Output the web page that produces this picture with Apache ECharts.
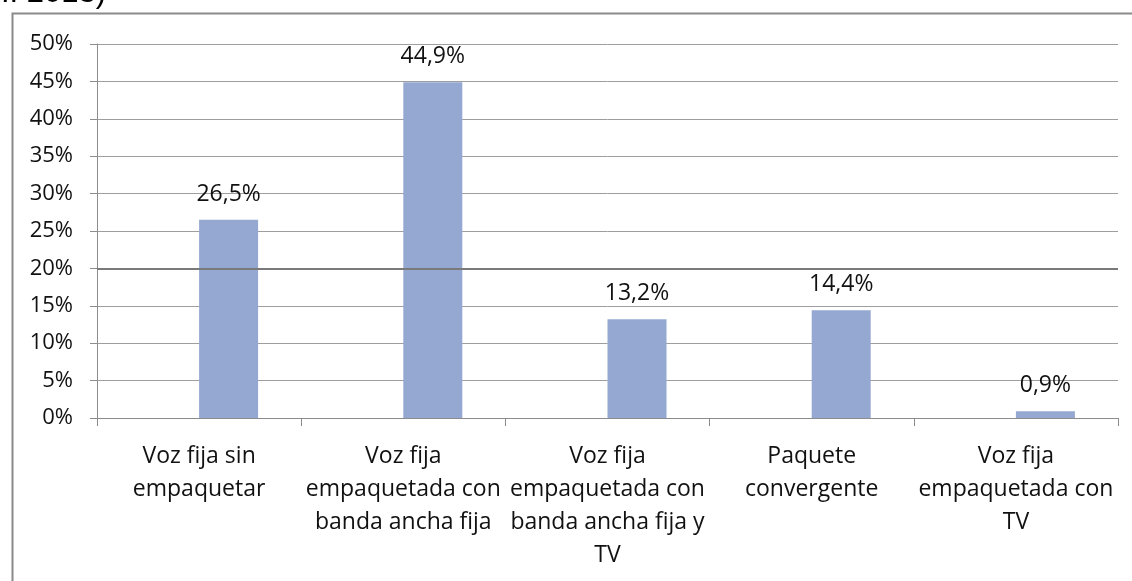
<!DOCTYPE html>
<html>
<head>
<meta charset="utf-8">
<script src="https://cdn.jsdelivr.net/npm/echarts@6/dist/echarts.min.js"></script>
<style>
html,body{margin:0;padding:0;background:#fff;}
#chart{width:1132px;height:581px;}
</style>
</head>
<body>
<div id="chart"></div>
<script>
var categories = [
  "Voz fija sin\nempaquetar",
  "Voz fija\nempaquetada con\nbanda ancha fija",
  "Voz fija\nempaquetada con\nbanda ancha fija y\nTV",
  "Paquete\nconvergente",
  "Voz fija\nempaquetada con\nTV"
];
var values = [26.5, 44.9, 13.2, 14.4, 0.9];
var emptySeries = [null, null, null, null, null];
var yTicks = [0, 5, 10, 15, 20, 25, 30, 35, 40, 45, 50];
var highlightLine = 20;
var headerText = "I. 2013)";

var FONT = "'Open Sans', sans-serif";
var chart = echarts.init(document.getElementById('chart'), null, {renderer: 'canvas'});
chart.setOption({
  animation: false,
  backgroundColor: '#fff',
  graphic: [
    {type: 'rect', left: 10, top: 11, z: -10, silent: true,
     shape: {width: 1200, height: 700},
     style: {fill: 'none', stroke: '#8a8a8a', lineWidth: 2}},
    {type: 'text', left: 1, top: -22, silent: true,
     style: {text: headerText, fill: '#000', font: "31px 'Liberation Sans', Arial, sans-serif"}}
  ],
  grid: {left: 97, right: 14, top: 44, bottom: 163, containLabel: false},
  xAxis: {
    type: 'category',
    data: categories,
    axisLine: {lineStyle: {color: '#8c8c8c', width: 1}},
    axisTick: {show: true, length: 8, interval: 0, alignWithLabel: false, lineStyle: {color: '#8c8c8c'}},
    axisLabel: {interval: 0, margin: 22, color: '#111', fontFamily: FONT, fontSize: 23, lineHeight: 33, align: 'center'},
    splitLine: {show: false}
  },
  yAxis: {
    type: 'value',
    min: yTicks[0],
    max: yTicks[yTicks.length - 1],
    interval: 5,
    axisLine: {show: true, lineStyle: {color: '#8c8c8c', width: 1}},
    axisTick: {show: true, length: 7, lineStyle: {color: '#8c8c8c'}},
    axisLabel: {formatter: '{value}%', color: '#111', fontFamily: FONT, fontSize: 22, margin: 24},
    splitLine: {show: true, lineStyle: {color: '#9e9e9e', width: 1}}
  },
  series: [
    {type: 'bar', data: emptySeries, barWidth: 59, barGap: '0%', silent: true},
    {
      type: 'bar', data: values, barWidth: 59, barGap: '0%',
      itemStyle: {color: '#94a8d2'},
      label: {show: true, position: 'top', distance: 14, color: '#111', fontFamily: FONT, fontSize: 23, lineHeight: 23,
        formatter: function (p) { return p.value.toFixed(1).replace('.', ',') + '%'; }},
      markLine: {
        silent: true, symbol: 'none', label: {show: false},
        lineStyle: {color: '#7a7a7a', width: 2, type: 'solid'},
        data: [{yAxis: highlightLine}]
      }
    }
  ]
});
</script>
</body>
</html>
